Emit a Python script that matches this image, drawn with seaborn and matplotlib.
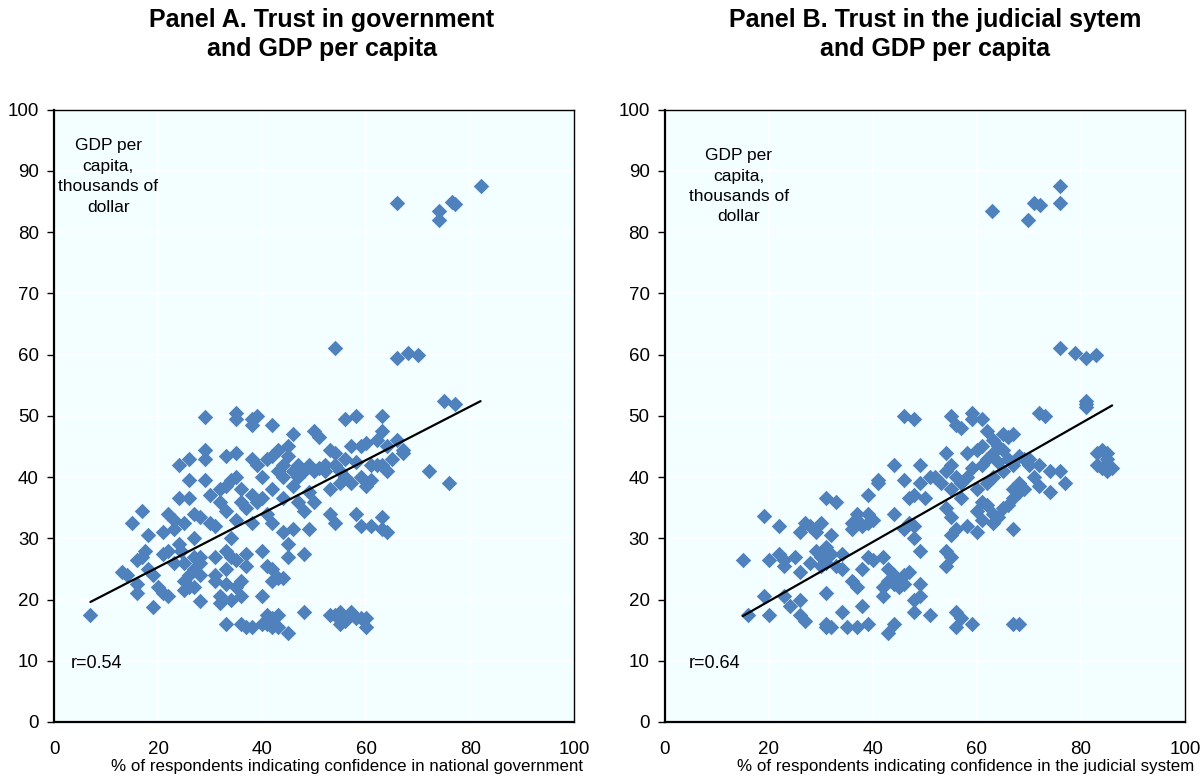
import matplotlib
matplotlib.use('Agg')
import matplotlib.pyplot as plt
import seaborn as sns
import pandas as pd

# Panel A: trust in government (x) vs GDP per capita (y)
gov_x = [7, 13, 14, 15, 16, 16, 16, 17, 17.5, 17, 18, 18, 19, 19, 20, 21, 22, 21, 21, 22, 22, 23, 23, 23,
         24, 24, 24, 24.5, 25, 25, 25, 25, 26, 26, 26, 26, 26, 27, 27, 27, 27, 27, 28, 28, 28, 28, 28,
         29, 29, 29, 29, 30, 30, 31, 31, 31, 31, 32, 32, 32, 32, 33, 33, 33, 33, 33, 33, 33,
         34, 34, 34, 34, 35, 35, 35, 35, 35, 35, 35, 36, 36, 36, 36, 36, 37, 37, 37, 37,
         38, 38, 38, 38, 38, 38, 39, 39, 39, 40, 40, 40, 40, 40, 41, 41, 41, 41, 41,
         42, 42, 42, 42, 42, 42, 42, 42, 43, 43, 43, 43, 43, 44, 44, 44, 44, 44,
         45, 45, 45, 45, 45, 46, 46, 46, 46, 47, 47, 47, 48, 48, 48, 48, 49, 49, 49,
         50, 50, 50, 51, 51, 52, 52, 53, 53, 53, 53, 54, 54, 54, 54, 55, 55, 55, 55,
         56, 56, 56, 56, 57, 57, 57, 58, 58, 58, 58, 59, 59, 59, 59, 60, 60, 60, 60,
         61, 61, 61, 62, 62, 63, 63, 63, 63, 63, 64, 64, 64, 65, 66, 67, 67, 72, 75, 76, 77,
         54, 66, 68, 70, 66, 74, 74, 77, 76.5, 82]
gov_gdp = [17.5, 24.5, 24, 32.5, 21, 22.5, 26.5, 27, 28, 34.5, 30.5, 25, 24, 18.8, 22, 21, 20.5, 27.5, 31, 28, 34, 33, 26, 31.5,
           36.5, 42, 29, 28, 23, 21.5, 26, 32.5, 43, 39.5, 36.5, 24, 22, 34, 22, 25, 30, 27, 19.7, 33.5, 27, 26, 24,
           49.8, 44.5, 43, 39.5, 37, 32.5, 32, 27, 24, 23, 20.5, 19.5, 36, 38, 43.5, 38.5, 34.5, 28, 25, 22.5, 16,
           20, 39.5, 30, 27, 50.5, 49.5, 44, 40, 33, 26.5, 22, 38, 36, 23, 20.5, 16, 35, 27.5, 25.5, 15.5,
           49.5, 48.5, 43, 37, 32.5, 15.5, 50, 42, 36, 40, 36.5, 28, 20.5, 16, 43, 34, 25.5, 17.5, 16,
           48.5, 43.5, 38, 32.5, 25, 23, 17, 15.5, 44.5, 41, 23.5, 17.5, 15.5, 42, 40, 36.5, 31, 23.5,
           45, 43.5, 29, 27, 14.5, 47, 41, 38.5, 31.5, 42, 36, 40, 41, 34.5, 27.5, 18, 42, 37.5, 31.5,
           47.5, 41, 36, 46.5, 41.5, 42, 41, 44.5, 38, 34, 17.5, 44, 42, 32.5, 17.5, 41, 39, 18, 16,
           49.5, 43, 40, 16.5, 45, 39, 18, 50, 42.5, 34, 17, 45, 40, 32, 17, 45.5, 38.5, 17, 15.5,
           42, 39.5, 32, 46, 42, 50, 47.5, 42, 33.5, 31.5, 45, 41, 31, 43, 46, 44.5, 44, 41, 52.5, 39, 52,
           61, 59.5, 60.3, 59.9, 84.8, 83.5, 82, 84.6, 85, 87.6]

# Panel B: trust in the judicial system (x) vs GDP per capita (y)
jud_x = [15, 16, 19, 19, 20, 20, 22, 22, 23, 23, 23, 24, 25, 26, 26, 26, 26, 27, 27, 28, 28, 29, 29, 30, 30, 30,
         31, 31, 31, 31, 31, 31, 32, 32, 32, 33, 33, 34, 34, 34, 35, 36, 36, 36, 37, 37, 37, 37, 38, 38, 38,
         39, 39, 39, 39, 39, 40, 40, 41, 41, 42, 42, 42, 43, 43, 43, 44, 44, 44, 44, 44, 45, 45,
         46, 46, 46, 46, 46, 47, 47, 47, 48, 48, 48, 48, 48, 48, 49, 49, 49, 49, 49, 50, 51, 51, 52, 53,
         54, 54, 54, 54, 54, 55, 55, 55, 55, 55, 55, 56, 56, 56, 56, 56, 57, 57, 57, 57, 58, 58, 58,
         59, 59, 59, 59, 60, 60, 60, 60, 61, 61, 61, 61, 61, 62, 62, 62, 62, 63, 63, 63, 63, 63,
         64, 64, 64, 65, 65, 65, 65, 66, 66, 66, 67, 67, 67, 67, 67, 67, 68, 68, 68, 68, 69, 69, 70, 70,
         71, 72, 72, 72, 73, 74, 74, 76, 77, 81, 81, 81, 83, 83, 84, 84, 85, 85, 85, 86,
         62.9, 69.9, 71, 72.1, 76, 76, 76, 78.9, 80.9, 82.9]
jud_gdp = [26.5, 17.5, 33.6, 20.5, 26.5, 17.5, 32, 27.5, 26.5, 25.5, 20.5, 19, 27, 31, 24.5, 20, 17.5, 32.5, 16.5, 32, 26, 31, 28, 27, 32.5, 25.5,
           36.5, 28.5, 26, 21, 16, 15.5, 30.5, 27.5, 15.5, 36, 25.5, 27.5, 25, 18, 15.5, 32.5, 31.5, 23, 34, 33, 22, 15.5, 32, 25, 19,
           37, 34, 32.5, 27, 16, 33, 26.5, 39.5, 39, 27, 22, 20.5, 25, 23, 14.5, 42, 34, 24, 22.5, 16, 23, 22,
           50, 39.5, 31.5, 24, 22.5, 36.5, 32.5, 24.5, 49.5, 37, 32, 30, 20, 18, 42, 39, 28, 22.5, 20.5, 36.5, 40, 17.5, 40, 39,
           44, 41, 35, 28, 25.5, 50, 42, 38, 33.5, 30.5, 27, 48.5, 40, 31.5, 18, 15.5, 48, 39, 36.5, 17, 44, 40, 32,
           50.5, 49.5, 41.5, 16, 44.5, 38, 34.5, 31, 49.5, 45, 42, 36, 33, 47.5, 43, 39, 35.5, 46, 44, 40, 34, 32.5,
           45, 42.5, 33.5, 47, 44.5, 41, 35, 46.5, 43, 35.5, 47, 42, 38, 36.5, 31.5, 16, 43.5, 39, 37.5, 16, 43, 38, 43, 42,
           40, 50.5, 42, 38.5, 50, 41, 37.5, 41, 39, 52.5, 52, 51.5, 42, 44, 44.5, 41.5, 44, 43, 41, 41.5,
           83.4, 82, 84.7, 84.5, 87.6, 84.7, 61, 60.3, 59.5, 59.9]

# fitted lines as printed in the source
gov_fit_x = [7, 82]
gov_fit_y = [19.6, 52.4]
jud_fit_x = [15, 86]
jud_fit_y = [17.3, 51.7]

panels = [
    ('Panel A. Trust in government\nand GDP per capita', gov_x, gov_gdp, gov_fit_x, gov_fit_y, 'r=0.54',
     '% of respondents indicating confidence in national government'),
    ('Panel B. Trust in the judicial sytem\nand GDP per capita', jud_x, jud_gdp, jud_fit_x, jud_fit_y, 'r=0.64',
     '% of respondents indicating confidence in the judicial system'),
]

sns.set_style('whitegrid', {'axes.facecolor': '#F2FEFF', 'grid.color': 'white', 'axes.edgecolor': 'black',
                            'text.color': 'black', 'axes.labelcolor': 'black',
                            'xtick.color': 'black', 'ytick.color': 'black'})
plt.rcParams['font.family'] = ['Liberation Sans Narrow', 'Liberation Sans', 'DejaVu Sans']

fig = plt.figure(figsize=(12, 7.78), dpi=100)
ax_a = fig.add_axes([0.045, 0.072, 0.4335, 0.787])
ax_b = fig.add_axes([0.554, 0.072, 0.4335, 0.787])

note_x = [0.104, 0.142]
note_y = [0.953, 0.937]
r_x = [0.033, 0.046]
title_x = [0.268, 0.779]

for i, (ax, (title, x, y, fx, fy, rtxt, xlab)) in enumerate(zip([ax_a, ax_b], panels)):
    df = pd.DataFrame({'x': x, 'y': y})
    sns.scatterplot(data=df, x='x', y='y', marker='D', s=62, color='#4F81BD', linewidth=0, ax=ax, zorder=3)
    sns.lineplot(x=fx, y=fy, color='black', linewidth=1.6, ax=ax, zorder=4)
    ax.set_xlim(0, 100)
    ax.set_ylim(0, 100)
    ax.set_xticks(range(0, 101, 20))
    ax.set_yticks(range(0, 101, 10))
    ax.grid(True, color='white', linewidth=1.2)
    for sp in ax.spines.values():
        sp.set_color('black')
        sp.set_linewidth(1.0)
    ax.spines['left'].set_linewidth(1.6)
    ax.spines['bottom'].set_linewidth(1.6)
    ax.tick_params(axis='y', length=5, width=1, color='black', pad=6, labelsize=13.5, left=True)
    ax.tick_params(axis='x', length=0, pad=14, labelsize=13.5)
    ax.set_ylabel('')
    ax.set_xlabel(xlab, fontsize=12.2, ha='right')
    ax.xaxis.set_label_coords(1.017, -0.06)
    ax.text(note_x[i], note_y[i], 'GDP per\ncapita,\nthousands of\ndollar', transform=ax.transAxes,
            ha='center', va='top', fontsize=12.5, linespacing=1.45)
    ax.text(r_x[i], 0.096, rtxt, transform=ax.transAxes, ha='left', va='center', fontsize=13)
    fig.text(title_x[i], 0.99, title, ha='center', va='top', fontsize=18, fontweight='bold',
             family=['Liberation Sans', 'DejaVu Sans'], linespacing=1.3)

fig.savefig('out.png', dpi=100)
